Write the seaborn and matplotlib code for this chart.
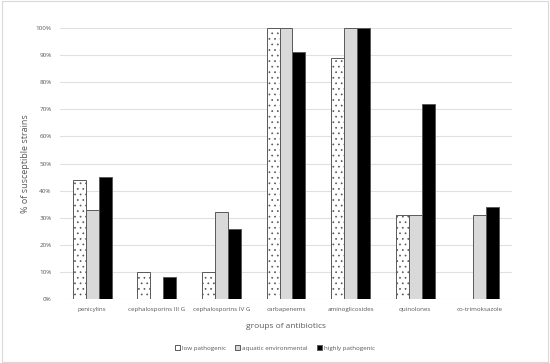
import numpy as np
import pandas as pd
import matplotlib
matplotlib.use("Agg")
import matplotlib.pyplot as plt
import seaborn as sns
from matplotlib.patches import Rectangle
from matplotlib.ticker import PercentFormatter

groups = ["penicylins", "cephalosporins III G", "cephalosporins IV G", "carbapenems",
          "aminoglicosides", "quinolones", "co-trimoksazole"]
series = ["low pathogenic", "aquatic environmental", "highly pathogenic"]
low_pathogenic = [44, 10, 10, 100, 89, 31, 0]
aquatic_environmental = [33, 0, 32, 100, 100, 31, 31]
highly_pathogenic = [45, 8, 26, 91, 100, 72, 34]

df = pd.DataFrame({
    "group": groups * 3,
    "strain": [series[0]] * 7 + [series[1]] * 7 + [series[2]] * 7,
    "value": low_pathogenic + aquatic_environmental + highly_pathogenic,
})

sns.set_theme(style="white")
plt.rcParams["font.family"] = ["Open Sans", "DejaVu Sans"]
plt.rcParams["hatch.color"] = "#a6a6a6"
plt.rcParams["hatch.linewidth"] = 0.5

fig = plt.figure(figsize=(5.5, 3.63), dpi=100)
ax = fig.add_axes([60 / 550, 1 - 299 / 363, 452 / 550, 271 / 363])

pal = {series[0]: "white", series[1]: "#d9d9d9", series[2]: "black"}
sns.barplot(data=df, x="group", y="value", hue="strain", palette=pal, width=0.6,
            edgecolor="#595959", linewidth=0.7, ax=ax, legend=False)
for p in ax.containers[0]:
    p.set_hatch("...")

ax.set_ylim(0, 100)
ax.set_yticks(np.arange(0, 101, 10))
ax.yaxis.set_major_formatter(PercentFormatter(decimals=0))
ax.grid(axis="y", color="#e0e0e0", linewidth=0.8)
ax.set_axisbelow(True)
for s in ax.spines.values():
    s.set_visible(False)
ax.tick_params(axis="both", length=0, labelsize=4.5, colors="#595959", pad=6)
ax.set_xlabel("groups of antibiotics", fontsize=6, color="#595959", labelpad=8)
ax.set_ylabel("% of susceptible strains", fontsize=6.5, color="#595959", labelpad=4)

handles = [Rectangle((0, 0), 1, 1, facecolor="white", edgecolor="#595959", hatch="...", lw=0.7),
           Rectangle((0, 0), 1, 1, facecolor="#d9d9d9", edgecolor="#595959", lw=0.7),
           Rectangle((0, 0), 1, 1, facecolor="black", edgecolor="#595959", lw=0.7)]
fig.legend(handles, series, loc="center", bbox_to_anchor=(0.5, 1 - 348 / 363), ncol=3,
           frameon=False, fontsize=4.5, handlelength=0.8, handleheight=0.8,
           handletextpad=0.3, columnspacing=1.5, labelcolor="#595959")

fig.patches.append(Rectangle((0.004, 0.004), 0.992, 0.992, transform=fig.transFigure,
                             fill=False, edgecolor="#d9d9d9", linewidth=0.8))

fig.savefig("out.png", dpi=100)
